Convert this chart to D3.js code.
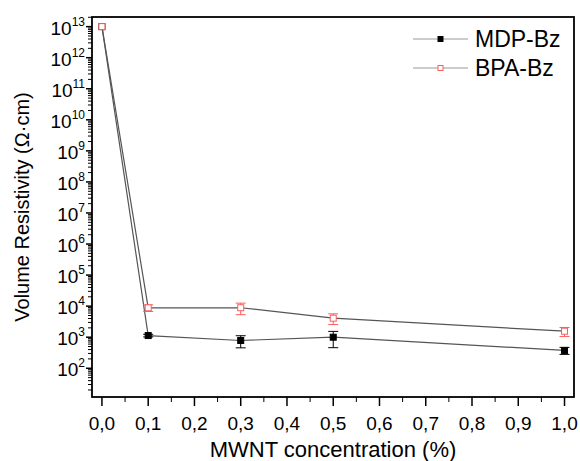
<!DOCTYPE html>
<html>
<head>
<meta charset="utf-8">
<script src="https://cdn.jsdelivr.net/npm/d3@7"></script>
<style>
  body { margin: 0; background: #fff; }
  text { font-family: Arial, "Liberation Sans", sans-serif; fill: #000; }
</style>
</head>
<body>
<div id="chart"></div>
<script>
"use strict";

// concentration of MWNT (%)
var conc = [0.0, 0.1, 0.3, 0.5, 1.0];

// volume resistivity (ohm.cm) and errors
var mdpValues = [1e13, 1130, 785, 1000, 375];
var mdpErrors = [0, 110, 330, 540, 95];
var bpaValues = [1e13, 8850, 8900, 4100, 1560];
var bpaErrors = [0, 2100, 3600, 1550, 500];

var xTicks = [0, 0.1, 0.2, 0.3, 0.4, 0.5, 0.6, 0.7, 0.8, 0.9, 1.0];
var yExponents = [2, 3, 4, 5, 6, 7, 8, 9, 10, 11, 12, 13];

var seriesNames = ["MDP-Bz", "BPA-Bz"];

var W = 580, H = 461;
var m = { left: 92, right: 6, top: 17, bottom: 64 };

var svg = d3.select("#chart").append("svg")
    .attr("width", W)
    .attr("height", H);

var x = d3.scaleLinear()
    .domain([-0.0215, 1.0205])
    .range([m.left, W - m.right]);

var y = d3.scaleLog()
    .domain([Math.pow(10, 1.075), Math.pow(10, 13.31)])
    .range([H - m.bottom, m.top]);

// minor ticks on the log axis
var minorY = [];
for (var e = 1; e <= 13; e++) {
    for (var k = 2; k <= 9; k++) {
        var v = k * Math.pow(10, e);
        if (v >= y.domain()[0] && v <= y.domain()[1]) minorY.push(v);
    }
}
var minorX = d3.range(0.05, 1.0, 0.1);

var axisG = svg.append("g");

// y ticks
axisG.selectAll("line.ymin").data(minorY).join("line")
    .attr("x1", m.left - 4).attr("x2", m.left)
    .attr("y1", function (d) { return y(d); })
    .attr("y2", function (d) { return y(d); })
    .attr("stroke", "#000").attr("stroke-width", 1);

axisG.selectAll("line.ymaj").data(yExponents).join("line")
    .attr("x1", m.left - 6).attr("x2", m.left)
    .attr("y1", function (d) { return y(Math.pow(10, d)); })
    .attr("y2", function (d) { return y(Math.pow(10, d)); })
    .attr("stroke", "#000").attr("stroke-width", 1.5);

var yLab = axisG.selectAll("text.ylab").data(yExponents).join("text")
    .attr("class", "ylab")
    .attr("x", 85)
    .attr("y", function (d) { return y(Math.pow(10, d)) + 8; })
    .attr("text-anchor", "end")
    .style("font-size", "19px");
yLab.append("tspan").text("10");
yLab.append("tspan")
    .attr("dy", -9)
    .style("font-size", "12px")
    .text(function (d) { return d; });

// x ticks
axisG.selectAll("line.xmin").data(minorX).join("line")
    .attr("x1", function (d) { return x(d); })
    .attr("x2", function (d) { return x(d); })
    .attr("y1", H - m.bottom).attr("y2", H - m.bottom + 5)
    .attr("stroke", "#000").attr("stroke-width", 1);

axisG.selectAll("line.xmaj").data(xTicks).join("line")
    .attr("x1", function (d) { return x(d); })
    .attr("x2", function (d) { return x(d); })
    .attr("y1", H - m.bottom).attr("y2", H - m.bottom + 9)
    .attr("stroke", "#000").attr("stroke-width", 1.5);

axisG.selectAll("text.xlab").data(xTicks).join("text")
    .attr("x", function (d) { return x(d); })
    .attr("y", 430)
    .attr("text-anchor", "middle")
    .style("font-size", "19px")
    .text(function (d) { return d3.format(".1f")(d).replace(".", ","); });

// frame
svg.append("rect")
    .attr("x", m.left).attr("y", m.top)
    .attr("width", W - m.left - m.right)
    .attr("height", H - m.top - m.bottom)
    .attr("fill", "none")
    .attr("stroke", "#000")
    .attr("stroke-width", 1.8);

// axis titles
svg.append("text")
    .attr("x", (m.left + W - m.right) / 2)
    .attr("y", 457)
    .attr("text-anchor", "middle")
    .style("font-size", "22px")
    .text("MWNT concentration (%)");

svg.append("text")
    .attr("transform", "translate(29," + ((m.top + H - m.bottom) / 2) + ") rotate(-90)")
    .attr("text-anchor", "middle")
    .style("font-size", "20px")
    .text("Volume Resistivity (\u03A9\u00B7cm)");

// series
var series = [
    { name: seriesNames[0], values: mdpValues, errors: mdpErrors, color: "#000", fill: "#000" },
    { name: seriesNames[1], values: bpaValues, errors: bpaErrors, color: "#ff5a5a", fill: "#fff" }
];

var line = d3.line()
    .x(function (d) { return x(d[0]); })
    .y(function (d) { return y(d[1]); });

var plotG = svg.append("g");

series.forEach(function (s) {
    var pts = conc.map(function (c, i) { return [c, s.values[i], s.errors[i]]; });

    plotG.append("path")
        .attr("d", line(pts))
        .attr("fill", "none")
        .attr("stroke", "#555")
        .attr("stroke-width", 1.2);
});

series.forEach(function (s) {
    var pts = conc.map(function (c, i) { return [c, s.values[i], s.errors[i]]; });
    var g = plotG.append("g");
    var eb = pts.filter(function (d) { return d[2] > 0; });

    g.selectAll("line.eb").data(eb).join("line")
        .attr("x1", function (d) { return x(d[0]); })
        .attr("x2", function (d) { return x(d[0]); })
        .attr("y1", function (d) { return y(d[1] + d[2]); })
        .attr("y2", function (d) { return y(d[1] - d[2]); })
        .attr("stroke", s.color).attr("stroke-width", 1);

    [1, -1].forEach(function (sign) {
        g.selectAll("line.cap" + sign).data(eb).join("line")
            .attr("x1", function (d) { return x(d[0]) - 5; })
            .attr("x2", function (d) { return x(d[0]) + 5; })
            .attr("y1", function (d) { return y(d[1] + sign * d[2]); })
            .attr("y2", function (d) { return y(d[1] + sign * d[2]); })
            .attr("stroke", s.color).attr("stroke-width", 1);
    });

    g.selectAll("rect").data(pts).join("rect")
        .attr("x", function (d) { return x(d[0]) - 3; })
        .attr("y", function (d) { return y(d[1]) - 3; })
        .attr("width", 6).attr("height", 6)
        .attr("fill", s.fill)
        .attr("stroke", s.color)
        .attr("stroke-width", 1);
});

// legend
var legend = svg.append("g");
series.forEach(function (s, i) {
    var ly = 39 + i * 29;
    legend.append("line")
        .attr("x1", 413).attr("x2", 468)
        .attr("y1", ly).attr("y2", ly)
        .attr("stroke", "#999").attr("stroke-width", 1.2);
    legend.append("rect")
        .attr("x", 440.5 - 2.5).attr("y", ly - 2.5)
        .attr("width", 5).attr("height", 5)
        .attr("fill", s.fill).attr("stroke", s.color).attr("stroke-width", 1);
    legend.append("text")
        .attr("x", 475).attr("y", ly + 8)
        .style("font-size", "23px")
        .text(s.name);
});
</script>
</body>
</html>
